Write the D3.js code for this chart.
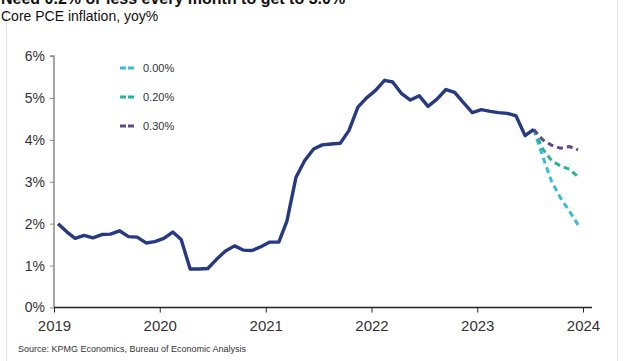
<!DOCTYPE html>
<html>
<head>
<meta charset="utf-8">
<script src="https://cdn.jsdelivr.net/npm/d3@7"></script>
<style>
  body { margin: 0; background: #fff; }
  svg { display: block; font-family: "Liberation Sans", Arial, sans-serif; }
</style>
</head>
<body>
<svg id="chart" width="623" height="361"></svg>
<script>
// monthly core PCE yoy%, Jan 2019 .. Jul 2023
var actual = [
  2.0, 1.8, 1.65, 1.72, 1.66, 1.74, 1.75, 1.83, 1.69, 1.68, 1.54, 1.57,
  1.65, 1.8, 1.62, 0.92, 0.92, 0.93, 1.15, 1.35, 1.47, 1.37, 1.36, 1.45,
  1.56, 1.56, 2.06, 3.1, 3.5, 3.78, 3.88, 3.9, 3.92, 4.22, 4.78, 5.0,
  5.18, 5.42, 5.38, 5.1, 4.95, 5.05, 4.8, 4.97, 5.2, 5.13, 4.88, 4.65,
  4.72, 4.68, 4.65, 4.63, 4.57, 4.1, 4.25
];
// scenarios: monthly change from Aug 2023 to Dec 2023 (start at Jul 2023)
var scenarioNames = ["0.00%", "0.20%", "0.30%"];
var scenario0 = [4.25, 3.6, 3.0, 2.62, 2.3, 1.97];
var scenario2 = [4.25, 3.78, 3.5, 3.38, 3.3, 3.12];
var scenario3 = [4.25, 4.0, 3.87, 3.8, 3.84, 3.76];
var scenarioColors = ["#3bbcd6", "#25b39a", "#5e4a8c"];
var yTicks = [0, 1, 2, 3, 4, 5, 6];
var yearTicks = [2019, 2020, 2021, 2022, 2023, 2024];

function monthDate(i) {
  return new Date(2019, i, 15);
}

var svg = d3.select("#chart");

// faint frame of the screenshot
svg.append("line").attr("x1", 6.5).attr("x2", 6.5).attr("y1", 8).attr("y2", 361)
  .attr("stroke", "#e2e2e2");
svg.append("line").attr("x1", 617.5).attr("x2", 617.5).attr("y1", 0).attr("y2", 361)
  .attr("stroke", "#e2e2e2");

// title (cut off at the top, as in the screenshot)
svg.append("text").attr("x", 1).attr("y", 4)
  .attr("font-size", 16).attr("font-weight", "bold").attr("fill", "#111")
  .text("Need 0.2% or less every month to get to 3.0%");
svg.append("text").attr("x", 1).attr("y", 21)
  .attr("font-size", 14).attr("fill", "#111")
  .text("Core PCE inflation, yoy%");

var x = d3.scaleTime()
  .domain([new Date(2019, 0, 1), new Date(2024, 0, 1)])
  .range([54, 583]);
var y = d3.scaleLinear().domain([0, 6]).range([307.5, 56]);

// y axis
var yAxis = svg.append("g").attr("transform", "translate(54,0)")
  .call(d3.axisLeft(y).tickValues(yTicks).tickSize(4).tickFormat(function(d){ return d + "%"; }));
yAxis.select(".domain").attr("stroke", "#8a8a8a").attr("stroke-width", 1.5)
  .attr("d", "M-4," + y(6) + "H0V" + y(0));
yAxis.selectAll(".tick line").attr("stroke", "#8a8a8a");
yAxis.selectAll(".tick text").attr("font-size", 14).attr("fill", "#333")
  .attr("font-family", "Liberation Sans, Arial, sans-serif").attr("x", -9);

// x axis
var xAxis = svg.append("g").attr("transform", "translate(0," + y(0) + ")")
  .call(d3.axisBottom(x)
    .tickValues(yearTicks.map(function(yr){ return new Date(yr, 0, 1); }))
    .tickSize(5).tickSizeOuter(0)
    .tickFormat(d3.timeFormat("%Y")));
xAxis.select(".domain").attr("stroke", "#222").attr("stroke-width", 1.3)
  .attr("d", "M54,0H592");
xAxis.selectAll(".tick line").attr("stroke", "#222");
xAxis.selectAll(".tick text").attr("font-size", 15).attr("fill", "#333")
  .attr("font-family", "Liberation Sans, Arial, sans-serif").attr("dy", "1.05em");

var line = d3.line()
  .x(function(d){ return x(d.date); })
  .y(function(d){ return y(d.v); });

var actualPts = actual.map(function(v, i){ return {date: monthDate(i), v: v}; });
var startIdx = actual.length - 1;
var scenarios = [scenario0, scenario2, scenario3];

[0, 1, 2].forEach(function(k){
  var pts = scenarios[k].map(function(v, i){ return {date: monthDate(startIdx + i), v: v}; });
  svg.append("path").datum(pts)
    .attr("d", line)
    .attr("fill", "none")
    .attr("stroke", scenarioColors[k])
    .attr("stroke-width", 3)
    .attr("stroke-dasharray", "6,4");
});

svg.append("path").datum(actualPts)
  .attr("d", line)
  .attr("fill", "none")
  .attr("stroke", "#273a80")
  .attr("stroke-width", 3.4)
  .attr("stroke-linejoin", "round");

// legend
var legend = svg.append("g");
scenarioNames.forEach(function(name, k){
  var ly = 68 + k * 29;
  legend.append("line").attr("x1", 120).attr("x2", 134).attr("y1", ly).attr("y2", ly)
    .attr("stroke", scenarioColors[k]).attr("stroke-width", 3).attr("stroke-dasharray", "6,2");
  legend.append("text").attr("x", 143).attr("y", ly + 4)
    .attr("font-size", 11).attr("fill", "#333").text(name);
});

// source
svg.append("text").attr("x", 18).attr("y", 352)
  .attr("font-size", 9).attr("fill", "#333")
  .text("Source: KPMG Economics, Bureau of Economic Analysis");
</script>
</body>
</html>
